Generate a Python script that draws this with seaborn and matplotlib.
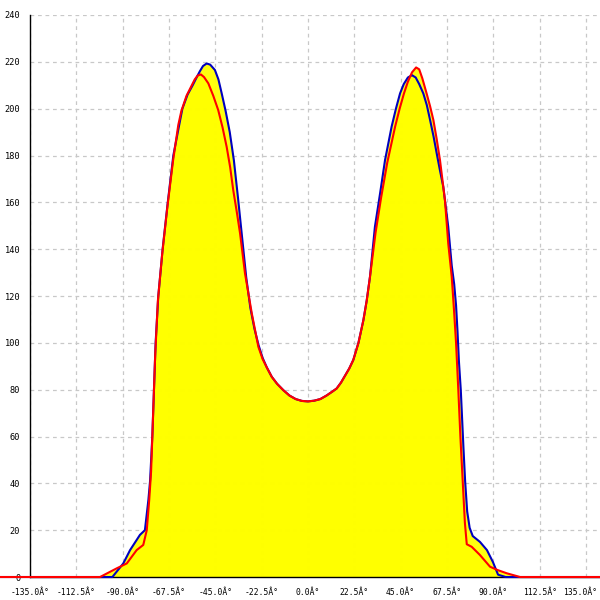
import numpy as np
import pandas as pd
import seaborn as sns
import matplotlib.pyplot as plt
from matplotlib.transforms import ScaledTranslation

# ===================== curve values =====================
blue_x = [-150, -95, -89.7, -86.4, -81.6, -79.2, -77.5, -76.7, -75.6, -74.8, -74.0, -72.7,
          -70.6, -68.1, -65.4, -63.0, -61.0, -58.5, -56.0, -54.0, -52.5, -51.0, -49.2,
          -47.5, -45.2, -43.5, -41.9, -40.0, -38.0, -36.0, -34.0, -32.0, -30.0, -28.0,
          -26.0, -24.0, -22.0, -20.0, -17.6, -15.0, -12.0, -9.0, -6.0,
          -3.0, 0.0, 3.0, 6.0, 9.0, 12.0, 13.9, 16.0, 18.0, 20.0, 22.0, 24.5, 26.9, 28.5,
          30.1, 32.5, 35.0, 37.4, 40.6, 42.7, 44.7, 46.5, 48.5, 50.5, 52.3, 54.0, 56.0,
          57.7, 59.3, 61.0, 62.5, 64.0, 65.7, 68.1, 69.8, 71.0, 71.9, 72.6, 73.3, 74.2,
          75.5, 76.3, 77.3, 78.5, 80.0, 83.5, 86.9, 89.8, 92.3, 96.0, 150]
blue_y = [0, 0, 5.8, 11.5, 18, 20, 33, 41, 60, 80, 100, 120,
          140, 160, 180, 191, 200, 206, 210, 213.5, 216, 218.2, 219.3,
          218.8, 216.5, 212.5, 206.5, 199, 190, 178, 162, 145, 128, 115,
          106, 99, 93.5, 89.5, 85.5, 82.5, 79.8, 77.5, 76,
          75.2, 75, 75.3, 76, 77.5, 79.3, 80.5, 83, 86, 89, 92.7, 100, 109.7, 118,
          128.2, 149.6, 163.8, 178, 192.3, 200, 206.5, 210.5, 213.3, 214.3, 213.3, 210.5, 206.5,
          201.5, 195.1, 188, 180.9, 174, 166.6, 149.6, 133, 125, 116, 105, 92, 79.8,
          55, 41, 28, 21, 17.5, 15, 11.5, 6.4, 1, 0, 0]

red_x = [-150, -101, -92.9, -88.0, -83.2, -80.0, -78.3, -77.1, -76.2, -75.2, -74.2,
         -72.9, -70.8, -68.3, -65.5, -63.0, -61.5, -59.0, -57.0, -55.0, -53.5, -52.0,
         -50.5, -48.4, -46.0, -43.6, -41.5, -39.5, -37.8, -36.3, -34.6, -33.0, -30.6,
         -27.3, -24.1, -22.0, -20.0, -17.6, -15.0, -12.0, -9.0,
         -6.0, -3.0, 0.0, 3.0, 6.0, 9.0, 12.0, 13.9, 16.0, 18.0, 20.0, 22.0, 24.5, 26.9,
         28.5, 30.1, 32.8, 35.5, 38.5, 42.3, 44.5, 46.6, 48.5, 50.5, 52.5, 54.0, 55.5,
         57.6, 59.3, 60.9, 62.5, 64.1, 66.5, 68.1, 69.8, 70.9, 71.9, 73.0, 74.0, 75.1,
         76.2, 77.1, 79.5, 83.5, 88.4, 92.0, 96.5, 103, 150]
red_y = [0, 0, 3.7, 5.8, 11.5, 13.7, 20, 33, 45, 70, 95,
         118, 138, 158, 178, 193, 199, 205.5, 209, 212.5, 214.2, 214.6,
         213.5, 210.8, 205.5, 199.4, 192, 183.7, 175, 165.2, 156, 146.8, 129.7,
         112.6, 98.3, 93, 89.5, 85.5, 82.5, 79.8, 77.5,
         76, 75.2, 75, 75.3, 76, 77.5, 79.3, 80.5, 83, 86, 89, 92.7, 100, 109.7,
         118, 128.2, 147, 162, 177, 192.3, 200, 206.5, 211.5, 215.5, 217.6, 216.8, 213,
         206.5, 201, 195.1, 187, 178, 161, 142.5, 128.2, 114, 99.9, 79.8, 60, 41.4,
         23, 14, 12.9, 9.4, 4.4, 3, 1.6, 0, 0]

x_ticks = [-135.0, -112.5, -90.0, -67.5, -45.0, -22.5, 0.0, 22.5, 45.0, 67.5, 90.0, 112.5, 135.0]
y_ticks = [0, 20, 40, 60, 80, 100, 120, 140, 160, 180, 200, 220, 240]

blue_df = pd.DataFrame({'angle': blue_x, 'value': blue_y})
red_df = pd.DataFrame({'angle': red_x, 'value': red_y})

sns.set_style("white")
plt.rcParams['font.family'] = ['DejaVu Sans Mono']

fig = plt.figure(figsize=(6, 6), dpi=100)
ax = fig.add_axes([0.05, 0.0383, 0.95, 0.9367])

# yellow area under both curves
ax.fill_between(blue_df['angle'], blue_df['value'], color='#ffff00', alpha=0.94, lw=0, zorder=1)
ax.fill_between(red_df['angle'], red_df['value'], color='#ffff00', alpha=0.94, lw=0, zorder=1)

sns.lineplot(data=blue_df, x='angle', y='value', color='#0000c0', lw=1.5, ax=ax,
             sort=False, clip_on=False, zorder=3)
sns.lineplot(data=red_df, x='angle', y='value', color='#ff0000', lw=1.5, ax=ax,
             sort=False, clip_on=False, zorder=4)

ax.set_xlim(-135, 141.8)
ax.set_ylim(0, 240)
ax.set_xticks(x_ticks)
ax.set_xticklabels(['{:.1f}Â°'.format(v) for v in x_ticks])
ax.set_yticks(y_ticks)
ax.set_yticklabels([str(v) for v in y_ticks])
ax.set_xlabel('')
ax.set_ylabel('')

ax.grid(True, color='#c8c8c8', linestyle=(0, (3, 3)), lw=0.9, zorder=0)
ax.set_axisbelow(True)

for side in ['top', 'right']:
    ax.spines[side].set_visible(False)
for side in ['left', 'bottom']:
    ax.spines[side].set_color('black')
    ax.spines[side].set_linewidth(1)

ax.tick_params(axis='y', direction='inout', length=8, width=1, labelsize=6.2, pad=3, colors='black')
ax.tick_params(axis='x', direction='out', length=5, width=1, labelsize=5.8, pad=3, colors='black')

# nudge the last x label so it stays inside the picture
last_label = ax.get_xticklabels()[-1]
last_label.set_transform(last_label.get_transform() + ScaledTranslation(-4 / 72, 0, fig.dpi_scale_trans))

fig.savefig('out.png', dpi=100)
